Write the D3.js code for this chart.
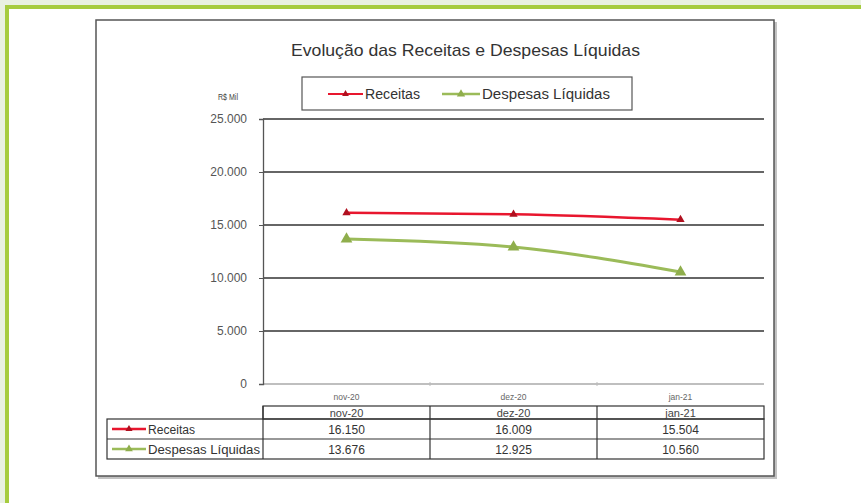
<!DOCTYPE html>
<html><head><meta charset="utf-8">
<script src="https://cdn.jsdelivr.net/npm/d3@7"></script>
<style>
html,body{margin:0;padding:0;background:#fff;}
svg{display:block;}
text{font-family:"Liberation Sans Narrow","Arial Narrow","Liberation Sans",Arial,sans-serif;}
</style></head>
<body>
<svg id="c" width="861" height="503"></svg>
<script>
const categories = ["nov-20", "dez-20", "jan-21"];
const seriesNames = ["Receitas", "Despesas Líquidas"];
const receitas = [16150, 16009, 15504];
const despesas = [13676, 12925, 10560];
const yTicks = [0, 5000, 10000, 15000, 20000, 25000];
const colors = ["#e8162e", "#9bbb59"];
const markerColors = ["#b0101f", "#8fae4c"];

const svg = d3.select("#c");
// page decoration
svg.append("rect").attr("x",0).attr("y",0).attr("width",861).attr("height",503).attr("fill","#e9f1e1");
svg.append("rect").attr("x",5).attr("y",5).attr("width",856).attr("height",498).attr("fill","#a6cc3f");
svg.append("rect").attr("x",9).attr("y",9).attr("width",852).attr("height",494).attr("fill","#ffffff");

// chart frame with shadow
svg.append("rect").attr("x",98).attr("y",22).attr("width",679).attr("height",457).attr("fill","#9a9a9a").attr("opacity",0.6);
svg.append("rect").attr("x",96).attr("y",20).attr("width",678).attr("height",456)
  .attr("fill","#fff").attr("stroke","#555").attr("stroke-width",1.5);

svg.append("text").attr("x",291).attr("y",56)
  .attr("font-size",17).attr("fill","#333")
  .attr("textLength",349).attr("lengthAdjust","spacingAndGlyphs")
  .text("Evolução das Receitas e Despesas Líquidas");

svg.append("text").attr("x",218).attr("y",100)
  .attr("font-size",9).attr("fill","#444")
  .attr("textLength",20).attr("lengthAdjust","spacingAndGlyphs").text("R$ Mil");

// scales
const x = d3.scaleBand().domain(categories).range([263, 764]);
const y = d3.scaleLinear().domain([0, 25000]).range([384, 119]);

// gridlines
svg.append("g").selectAll("line").data(yTicks.filter(d=>d>0)).join("line")
  .attr("x1",263).attr("x2",764).attr("y1",d=>y(d)).attr("y2",d=>y(d))
  .attr("stroke","#333").attr("stroke-width",1.3);
svg.append("line").attr("x1",263).attr("x2",764).attr("y1",y(0)).attr("y2",y(0))
  .attr("stroke","#aaa").attr("stroke-width",1.5);

// y axis
const fmt = d => d===0 ? "0" : d3.format(",")(d).replace(/,/g,".");
const yAxis = d3.axisLeft(y).tickValues(yTicks).tickFormat(fmt).tickSize(4).tickPadding(12);
const gy = svg.append("g").attr("transform","translate(263,0)").call(yAxis);
gy.select(".domain").attr("stroke","#555").attr("stroke-width",1.3);
gy.selectAll(".tick line").attr("stroke","#555");
gy.selectAll("text").attr("font-size",12).attr("fill","#555")
  .attr("font-family","'Liberation Sans',Arial,sans-serif");

// x ticks on baseline
svg.append("g").selectAll("line").data(categories.slice(1)).join("line")
  .attr("x1",d=>x(d)).attr("x2",d=>x(d)).attr("y1",y(0)-2).attr("y2",y(0)+2)
  .attr("stroke","#bbb");
// x labels
svg.append("g").selectAll("text").data(categories).join("text")
  .attr("x",d=>x(d)+x.bandwidth()/2).attr("y",400).attr("text-anchor","middle")
  .attr("font-size",8.5).attr("fill","#666").text(d=>d);

// lines
const series = [receitas, despesas];
const line = d3.line().x((d,i)=>x(categories[i])+x.bandwidth()/2).y(d=>y(d)).curve(d3.curveMonotoneX);
series.forEach((s,k)=>{
  svg.append("path").datum(s).attr("d",line).attr("fill","none")
    .attr("stroke",colors[k]).attr("stroke-width",k===0?2.5:3);
});
// markers
const tri = d3.symbol().type(d3.symbolTriangle);
svg.append("g").selectAll("path").data(receitas).join("path")
  .attr("transform",(d,i)=>`translate(${x(categories[i])+x.bandwidth()/2},${y(d)})`)
  .attr("d",tri.size(30)()).attr("fill",markerColors[0]);
svg.append("g").selectAll("path").data(despesas).join("path")
  .attr("transform",(d,i)=>`translate(${x(categories[i])+x.bandwidth()/2},${y(d)})`)
  .attr("d",tri.size(60)()).attr("fill",markerColors[1]);

// legend
svg.append("rect").attr("x",302).attr("y",77).attr("width",330).attr("height",33)
  .attr("fill","#fff").attr("stroke","#555").attr("stroke-width",1.2);
const lg = [{x:328, w:35, tx:365, tw:55}, {x:442, w:38, tx:482, tw:128}];
seriesNames.forEach((n,k)=>{
  const L = lg[k];
  svg.append("line").attr("x1",L.x).attr("x2",L.x+L.w).attr("y1",94).attr("y2",94)
    .attr("stroke",colors[k]).attr("stroke-width",k===0?2:2.5);
  svg.append("path").attr("transform",`translate(${L.x+L.w/2},94)`)
    .attr("d",tri.size(k===0?20:30)()).attr("fill",markerColors[k]);
  svg.append("text").attr("x",L.tx).attr("y",99).attr("font-size",14).attr("fill","#333")
    .attr("textLength",L.tw).attr("lengthAdjust","spacingAndGlyphs").text(n);
});

// data table
const tg = svg.append("g");
const tx0 = 107, tx1 = 263, txe = 764;
const rowY = [406, 419, 439, 459];
tg.append("rect").attr("x",tx1).attr("y",rowY[0]).attr("width",txe-tx1).attr("height",rowY[1]-rowY[0])
  .attr("fill","none").attr("stroke","#333").attr("stroke-width",1.2);
tg.append("rect").attr("x",tx0).attr("y",rowY[1]).attr("width",txe-tx0).attr("height",rowY[3]-rowY[1])
  .attr("fill","none").attr("stroke","#333").attr("stroke-width",1.2);
tg.append("line").attr("x1",tx0).attr("x2",txe).attr("y1",rowY[2]).attr("y2",rowY[2]).attr("stroke","#333").attr("stroke-width",1.2);
categories.forEach((c,i)=>{
  tg.append("line").attr("x1",x(c)).attr("x2",x(c)).attr("y1",rowY[0]).attr("y2",rowY[3]).attr("stroke","#333").attr("stroke-width",1.2);
  tg.append("text").attr("x",x(c)+x.bandwidth()/2).attr("y",417).attr("text-anchor","middle")
    .attr("font-size",11).attr("fill","#444").text(c);
});
const nameW = [47, 112];
series.forEach((s,k)=>{
  const cy = (rowY[k+1]+rowY[k+2])/2 + 4.5;
  tg.append("line").attr("x1",112).attr("x2",146).attr("y1",cy-4.5).attr("y2",cy-4.5)
    .attr("stroke",colors[k]).attr("stroke-width",k===0?2.5:2.5);
  tg.append("path").attr("transform",`translate(129,${cy-4.5})`)
    .attr("d",tri.size(k===0?22:26)()).attr("fill",markerColors[k]);
  tg.append("text").attr("x",148).attr("y",cy).attr("font-size",12).attr("fill","#333")
    .attr("textLength",nameW[k]).attr("lengthAdjust","spacingAndGlyphs").text(seriesNames[k]);
  s.forEach((v,i)=>{
    tg.append("text").attr("x",x(categories[i])+x.bandwidth()/2).attr("y",cy).attr("text-anchor","middle")
      .attr("font-size",12).attr("fill","#333").text(fmt(v));
  });
});
</script>
</body></html>
